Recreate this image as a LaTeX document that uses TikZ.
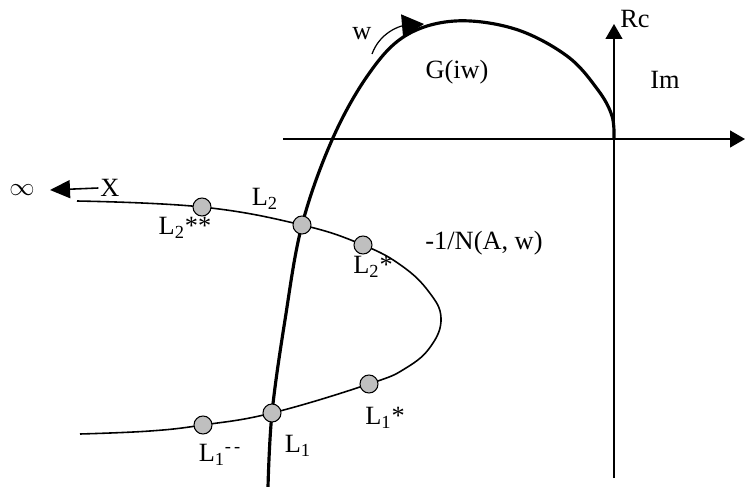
\documentclass[tikz,border=0pt]{standalone}
\usepackage{fontspec}
\setmainfont{Liberation Serif}
\usetikzlibrary{arrows.meta}

\begin{document}
\begin{tikzpicture}[
  x=0.02cm, y=-0.02cm,
  font=\fontsize{15}{17}\selectfont,
  axis/.style={line width=0.7pt, -{Triangle[length=3mm, width=3.4mm]}},
  gcurve/.style={line width=1.8pt},
  ncurve/.style={line width=0.9pt},
  pt/.style={circle, draw, line width=0.6pt, fill=black!25,
             minimum size=3.6mm, inner sep=0pt},
  lbl/.style={inner sep=1pt},
]
\useasboundingbox (0,0) rectangle (745,487);

% axes
\draw[axis] (283,139) -- (745,139);
\draw[axis] (614,478) -- (614,24);

% G(iw)
\draw[gcurve] plot[smooth, tension=0.6] coordinates {(268,487) (272,413)
  (285,320) (302,225) (332,140) (368,75) (405,36) (455,21) (515,29)
  (567,56) (598,90) (612,116) (614,139)};

% -1/N(A, w)
\draw[ncurve] plot[smooth, tension=0.7] coordinates {(77,201) (202,207)
  (302,225) (363,245) (402,266) (429,292) (441,318) (431,346) (406,368)
  (369,384) (272,413) (203,425) (150,431) (80,434)};

% operating points
\node[pt] (L2ss) at (202,207) {};
\node[pt] (L2)   at (302,225) {};
\node[pt] (L2s)  at (363,245) {};
\node[pt] (L1s)  at (369,384) {};
\node[pt] (L1)   at (272,413) {};
\node[pt] (L1ss) at (203,425) {};

% direction of w
\coordinate (wstart) at (372,54);
\coordinate (wtip) at (424,24);
\draw[line width=0.7pt, -{Triangle[length=4.4mm, width=4.6mm]}]
  (wstart) to[out=70, in=185] (wtip);

% X -> infinity
\node[lbl] (inf) at (22,190) {$\infty$};
\node[lbl] (X) at (110,188) {X};
\draw[line width=0.9pt, -{Triangle[length=4mm, width=3.6mm]}]
  (X.west) -- (50,190);

% labels
\node[lbl] (lG)   at (457,72)  {G(iw)};
\node[lbl] (lw)   at (362,34)  {w};
\node[lbl] (lRc)  at (635,19)  {Rc};
\node[lbl] (lIm)  at (665,80)  {Im};
\node[lbl] (lN)   at (484,243) {-1/N(A, w)};
\node[lbl] (lL2)  at (265,199) {L\textsubscript{2}};
\node[lbl] (lL2ss) at (185,228) {L\textsubscript{2}**};
\node[lbl] (lL2s) at (373,267) {L\textsubscript{2}*};
\node[lbl] (lL1s) at (385,418) {L\textsubscript{1}*};
\node[lbl] (lL1)  at (298,446) {L\textsubscript{1}};
\node[lbl] (lL1ss) at (220,455) {L\textsubscript{1}\textsuperscript{-\,-}};
\end{tikzpicture}
\end{document}
